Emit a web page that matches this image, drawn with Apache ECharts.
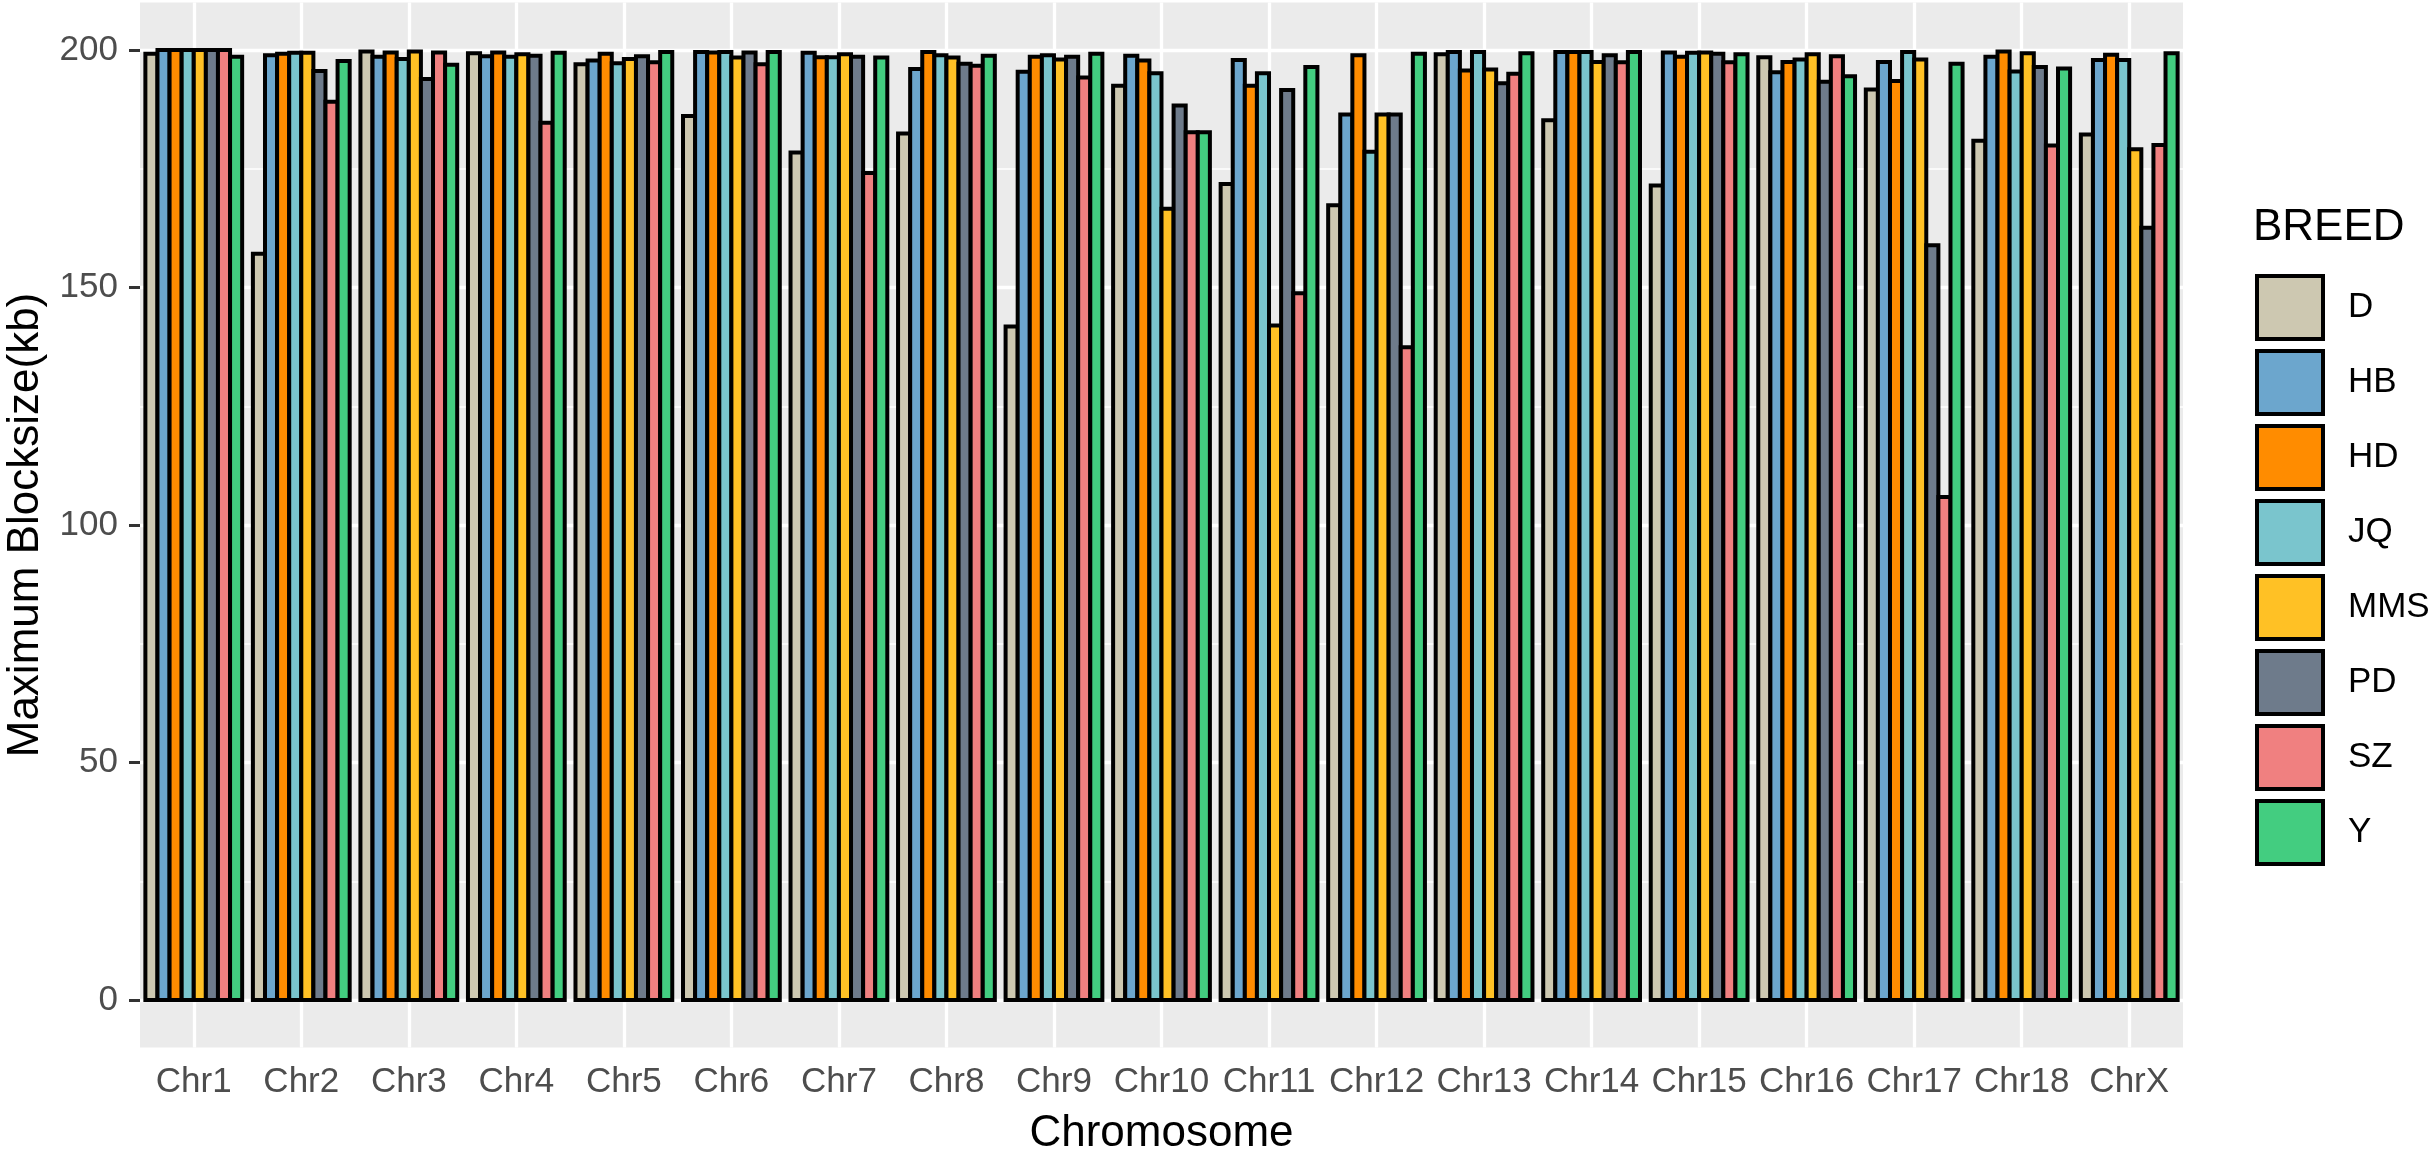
<!DOCTYPE html>
<html>
<head>
<meta charset="utf-8">
<script src="https://cdn.jsdelivr.net/npm/echarts@6/dist/echarts.min.js"></script>
<style>
html, body { margin: 0; padding: 0; background: #ffffff; }
#chart { width: 2436px; height: 1154px; }
</style>
</head>
<body>
<div id="chart"></div>
<script>
const categories = ['Chr1','Chr2','Chr3','Chr4','Chr5','Chr6','Chr7','Chr8','Chr9','Chr10','Chr11','Chr12','Chr13','Chr14','Chr15','Chr16','Chr17','Chr18','ChrX'];
const breeds = ['D','HB','HD','JQ','MMS','PD','SZ','Y'];
const breedColors = ['#CDC8B1','#6CA6CD','#FF8C00','#7AC5CD','#FFC125','#6E7B8B','#F08080','#43CD80'];

const valD   = [199.2, 157.1, 199.7, 199.3, 197.0, 186.1, 178.4, 182.4, 141.8, 192.5, 171.8, 167.3, 199.1, 185.2, 171.5, 198.5, 191.7, 180.9, 182.2];
const valHB  = [200.0, 198.9, 198.6, 198.7, 197.8, 199.6, 199.4, 196.0, 195.4, 198.8, 197.9, 186.4, 199.6, 199.6, 199.5, 195.3, 197.5, 198.6, 197.9];
const valHD  = [200.0, 199.2, 199.5, 199.5, 199.2, 199.5, 198.5, 199.6, 198.6, 197.8, 192.5, 198.9, 195.7, 199.6, 198.6, 197.5, 193.5, 199.7, 199.0];
const valJQ  = [200.0, 199.4, 198.1, 198.6, 197.2, 199.6, 198.5, 198.9, 198.9, 195.1, 195.1, 178.6, 199.6, 199.6, 199.4, 198.0, 199.6, 195.5, 197.9];
const valMMS = [200.0, 199.4, 199.7, 199.1, 198.1, 198.4, 199.1, 198.4, 198.0, 166.6, 142.0, 186.4, 195.9, 197.5, 199.5, 199.1, 198.0, 199.3, 179.1];
const valPD  = [200.0, 195.6, 193.9, 198.8, 198.7, 199.5, 198.6, 197.1, 198.6, 188.3, 191.6, 186.4, 193.0, 198.9, 199.2, 193.3, 158.9, 196.4, 162.6];
const valSZ  = [200.0, 189.1, 199.5, 184.7, 197.4, 197.0, 174.1, 196.7, 194.2, 182.7, 148.8, 137.4, 195.0, 197.4, 197.4, 198.7, 105.9, 179.9, 180.0];
const valY   = [198.6, 197.7, 196.9, 199.4, 199.6, 199.6, 198.4, 198.8, 199.2, 182.7, 196.4, 199.2, 199.3, 199.6, 199.1, 194.5, 197.1, 196.1, 199.3];

const yTicks = [0, 50, 100, 150, 200];
const yMinorTicks = [25, 75, 125, 175];

const seriesValues = [valD, valHB, valHD, valJQ, valMMS, valPD, valSZ, valY];

const FONT = '"Liberation Sans", Arial, sans-serif';
const nBreeds = breeds.length;

const barSeries = breeds.map(function (b, bi) {
  return {
    type: 'custom',
    name: b,
    z: 3,
    itemStyle: { color: breedColors[bi], borderColor: '#000', borderWidth: 4 },
    encode: { x: 0, y: 1 },
    data: seriesValues[bi].map(function (v, ci) { return [ci, v]; }),
    renderItem: function (params, api) {
      const ci = api.value(0);
      const v = api.value(1);
      const band = api.size([1, 0])[0];
      const groupW = band * 0.9;
      const barW = groupW / nBreeds;
      const top = api.coord([ci, v]);
      const base = api.coord([ci, 0]);
      const x0 = top[0] - groupW / 2 + bi * barW;
      return {
        type: 'rect',
        shape: { x: x0, y: top[1], width: barW, height: base[1] - top[1] },
        style: { fill: api.visual('color'), stroke: '#000000', lineWidth: 4 }
      };
    }
  };
});

const gridLineSeries = {
  type: 'line',
  name: '__grid',
  data: [],
  silent: true,
  z: 1,
  markLine: {
    silent: true,
    z: 1,
    symbol: ['none', 'none'],
    label: { show: false },
    emphasis: { disabled: true },
    animation: false,
    data: []
      .concat(yMinorTicks.map(function (t) { return { yAxis: t, lineStyle: { color: '#FFFFFF', width: 1.7, type: 'solid' } }; }))
      .concat(yTicks.map(function (t) { return { yAxis: t, lineStyle: { color: '#FFFFFF', width: 3.3, type: 'solid' } }; }))
      .concat(categories.map(function (c) { return { xAxis: c, lineStyle: { color: '#FFFFFF', width: 3.3, type: 'solid' } }; }))
  }
};

const chart = echarts.init(document.getElementById('chart'), null, { renderer: 'canvas' });
chart.setOption({
  animation: false,
  backgroundColor: '#FFFFFF',
  textStyle: { fontFamily: FONT },
  title: {
    text: 'BREED',
    left: 2248,
    top: 201,
    padding: 5,
    textStyle: { fontFamily: FONT, fontSize: 44, fontWeight: 'normal', color: '#000000' }
  },
  legend: {
    data: breeds,
    orient: 'vertical',
    left: 2250,
    top: 269,
    icon: 'rect',
    itemWidth: 66,
    itemHeight: 63,
    itemGap: 8,
    selectedMode: false,
    itemStyle: { borderColor: '#000000', borderWidth: 4 },
    textStyle: { fontFamily: FONT, fontSize: 35, color: '#000000', padding: [0, 0, 0, 20] }
  },
  grid: {
    left: 140,
    right: 253,
    top: 2.5,
    bottom: 106.5,
    show: true,
    backgroundColor: '#EBEBEB',
    borderWidth: 0,
    containLabel: false,
    outerBoundsMode: 'none'
  },
  xAxis: {
    type: 'category',
    data: categories,
    boundaryGap: true,
    name: 'Chromosome',
    nameLocation: 'middle',
    nameGap: 64,
    nameTextStyle: { fontFamily: FONT, fontSize: 44, color: '#000000' },
    axisLine: { show: false },
    axisTick: { show: true, alignWithLabel: true, length: 11, lineStyle: { color: '#333333', width: 3 } },
    axisLabel: { fontFamily: FONT, fontSize: 35, color: '#4D4D4D', margin: 17, interval: 0 },
    splitLine: { show: false }
  },
  yAxis: {
    type: 'value',
    min: -10,
    max: 210,
    name: 'Maximum Blocksize(kb)',
    nameLocation: 'middle',
    nameGap: 92,
    nameRotate: 90,
    nameTextStyle: { fontFamily: FONT, fontSize: 44, color: '#000000' },
    axisLine: { show: false },
    axisTick: { show: true, length: 11, customValues: yTicks, lineStyle: { color: '#333333', width: 3 } },
    axisLabel: { fontFamily: FONT, fontSize: 35, color: '#4D4D4D', margin: 22, customValues: yTicks },
    splitLine: { show: false },
    minorSplitLine: { show: false }
  },
  series: [gridLineSeries].concat(barSeries)
});
</script>
</body>
</html>
